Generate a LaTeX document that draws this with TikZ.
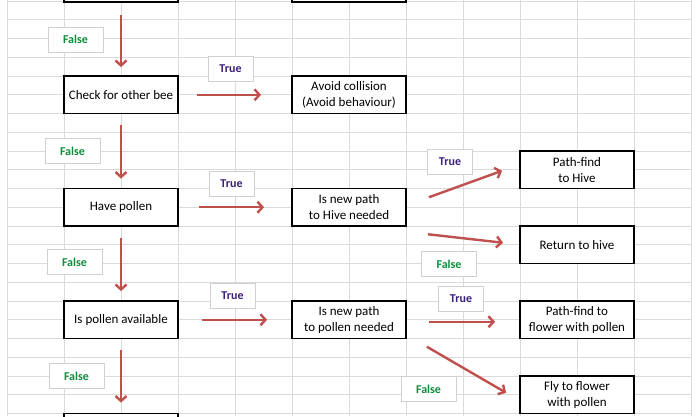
\documentclass[tikz,border=0pt]{standalone}
\usepackage{fontspec}
\setmainfont{Carlito}
\usetikzlibrary{arrows.meta}
\definecolor{arrowred}{HTML}{C0504D}
\definecolor{truecol}{HTML}{3B1F7A}
\definecolor{falsecol}{HTML}{0F8C3C}
\definecolor{cellgray}{HTML}{DADADA}
\definecolor{lblgray}{HTML}{D0D0D0}
\tikzset{
  stepbox/.style={draw, line width=1.8pt, fill=white, minimum width=114pt, minimum height=37.5pt, align=center, font=\fontsize{13}{16}\selectfont},
  lbl/.style={draw=lblgray, fill=white, minimum height=25pt, font=\fontsize{12}{14}\selectfont\bfseries},
  truelbl/.style={lbl, text=truecol, minimum width=45pt},
  falselbl/.style={lbl, text=falsecol, minimum width=55pt},
  flow/.style={draw=arrowred, line width=2.4pt, -{Straight Barb[length=5pt, width=11pt]}},
  gridline/.style={draw=cellgray, line width=0.7pt}
}
\begin{document}
\begin{tikzpicture}[x=1pt, y=-1pt]
		\useasboundingbox[fill=white] (0,0) rectangle (700,416);
		% sheet
		\foreach \x in {0,...,12} \draw[gridline] (7+57*\x,0) -- (7+57*\x,416);
		\foreach \y in {0,...,22} \draw[gridline] (7,1+18.75*\y) -- (691,1+18.75*\y);

		\begin{scope}[every node/.style={stepbox}]
			\node (top1) at (121,-16.75) {};
			\node (top2) at (349,-16.75) {};
			\node (chk) at (121,94.75) {Check for other bee};
			\node (avoid) at (349,94.75) {Avoid collision\\(Avoid behaviour)};
			\node (have) at (121,207.25) {Have pollen};
			\node (hiveq) at (349,207.25) {Is new path\\to Hive needed};
			\node (pathhive) at (577,169.75) {Path-find\\to Hive};
			\node (rethive) at (577,244.75) {Return to hive};
			\node (avail) at (121,319.75) {Is pollen available};
			\node (pollq) at (349,319.75) {Is new path\\to pollen needed};
			\node (pathflower) at (577,319.75) {Path-find to\\flower with pollen};
			\node (fly) at (577,394.75) {Fly to flower\\with pollen};
			\node (next) at (121,432.25) {};
		\end{scope}

		\begin{scope}
			\node[falselbl] (f1) at (75.5,39.5) {False};
			\node[truelbl] (t1) at (230.5,69) {True};
			\node[falselbl] (f2) at (72.5,151) {False};
			\node[truelbl] (t2) at (231.5,183.5) {True};
			\node[falselbl] (f3) at (74.5,262) {False};
			\node[truelbl] (t3) at (232.5,295.5) {True};
			\node[falselbl] (f4) at (76.5,376) {False};
			\node[truelbl] (t4) at (450,162) {True};
			\node[falselbl] (f5) at (449,264) {False};
			\node[truelbl] (t5) at (461,298.5) {True};
			\node[falselbl] (f6) at (428.5,389) {False};
		\end{scope}

		\begin{scope}[flow]
			\draw[shorten <=12pt, shorten >=8pt] (top1) -- (chk);
			\draw[shorten <=11pt, shorten >=9pt] (chk) -- (have);
			\draw[shorten <=11pt, shorten >=9pt] (have) -- (avail);
			\draw[shorten <=11pt, shorten >=10pt] (avail) -- (next);
			\draw[shorten <=18pt, shorten >=30pt] (chk) -- (avoid);
			\draw[shorten <=20pt, shorten >=27pt] (have) -- (hiveq);
			\draw[shorten <=23pt, shorten >=24pt] (avail) -- (pollq);
			\draw ([shift={(22,-10)}]hiveq.east) -- ([shift={(-17,1)}]pathhive.west);
			\draw ([shift={(21,27)}]hiveq.east) -- ([shift={(-16,-2)}]rethive.west);
			\draw ([shift={(22,2)}]pollq.east) -- ([shift={(-24,2)}]pathflower.west);
			\draw ([shift={(20,27)}]pollq.east) -- ([shift={(-13,-2)}]fly.west);
		\end{scope}
		\end{tikzpicture}
\end{document}
